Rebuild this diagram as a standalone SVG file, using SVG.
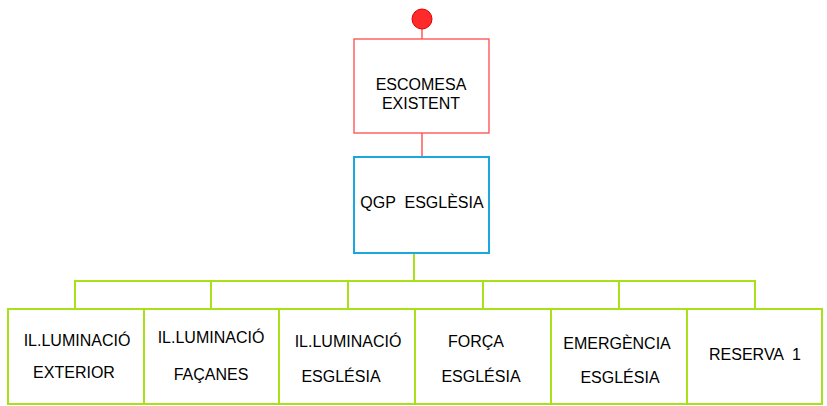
<svg xmlns="http://www.w3.org/2000/svg" width="827" height="406" viewBox="0 0 827 406">
<style>
text{font-family:"Liberation Sans",Arial,sans-serif;font-size:16px;fill:#000;text-anchor:middle}
.red{fill:#fff;stroke:#ff4a4a;stroke-width:1.3}
.blue{fill:#fff;stroke:#1aa7e0;stroke-width:2}
.grn{fill:#fff;stroke:#a8e01a;stroke-width:2}
.lr{stroke:#ff3030;stroke-width:1.2;fill:none}
.lg{stroke:#a8e01a;stroke-width:2;fill:none}
</style>
<rect width="827" height="406" fill="#fff"/>
<g id="connectors">
<line class="lr" x1="422" y1="29" x2="422" y2="39"/>
<line class="lr" x1="422" y1="133" x2="422" y2="157"/>
<line class="lg" x1="414" y1="253" x2="414" y2="281"/>
<polyline class="lg" points="75,309 75,281 755,281 755,309"/>
<line class="lg" x1="211" y1="281" x2="211" y2="309"/>
<line class="lg" x1="348" y1="281" x2="348" y2="309"/>
<line class="lg" x1="483" y1="281" x2="483" y2="309"/>
<line class="lg" x1="619" y1="281" x2="619" y2="309"/>
</g>
<g id="source"><circle cx="422" cy="19" r="10" fill="#ff2a2a" stroke="#e00000" stroke-width="1"/></g>
<g id="escomesa"><rect class="red" x="354" y="39" width="135" height="94"/><text x="421" y="90">ESCOMESA</text><text x="421" y="109">EXISTENT</text></g>
<g id="qgp"><rect class="blue" x="354" y="157" width="135" height="96"/><text x="422" y="208" xml:space="preserve">QGP  ESGLÈSIA</text></g>
<g id="n1"><rect class="grn" x="8" y="309" width="136" height="95"/><text x="77" y="346">IL.LUMINACIÓ</text><text x="74" y="378">EXTERIOR</text></g>
<g id="n2"><rect class="grn" x="144" y="309" width="135" height="95"/><text x="211" y="343">IL.LUMINACIÓ</text><text x="211" y="380">FAÇANES</text></g>
<g id="n3"><rect class="grn" x="279" y="309" width="136" height="95"/><text x="348" y="347">IL.LUMINACIÓ</text><text x="341" y="382">ESGLÉSIA</text></g>
<g id="n4"><rect class="grn" x="415" y="309" width="136" height="95"/><text x="476" y="347">FORÇA</text><text x="481" y="382">ESGLÉSIA</text></g>
<g id="n5"><rect class="grn" x="551" y="309" width="136" height="95"/><text x="617" y="349">EMERGÈNCIA</text><text x="620" y="383">ESGLÉSIA</text></g>
<g id="n6"><rect class="grn" x="687" y="309" width="135" height="95"/><text x="755" y="360" xml:space="preserve">RESERVA  1</text></g>
</svg>
